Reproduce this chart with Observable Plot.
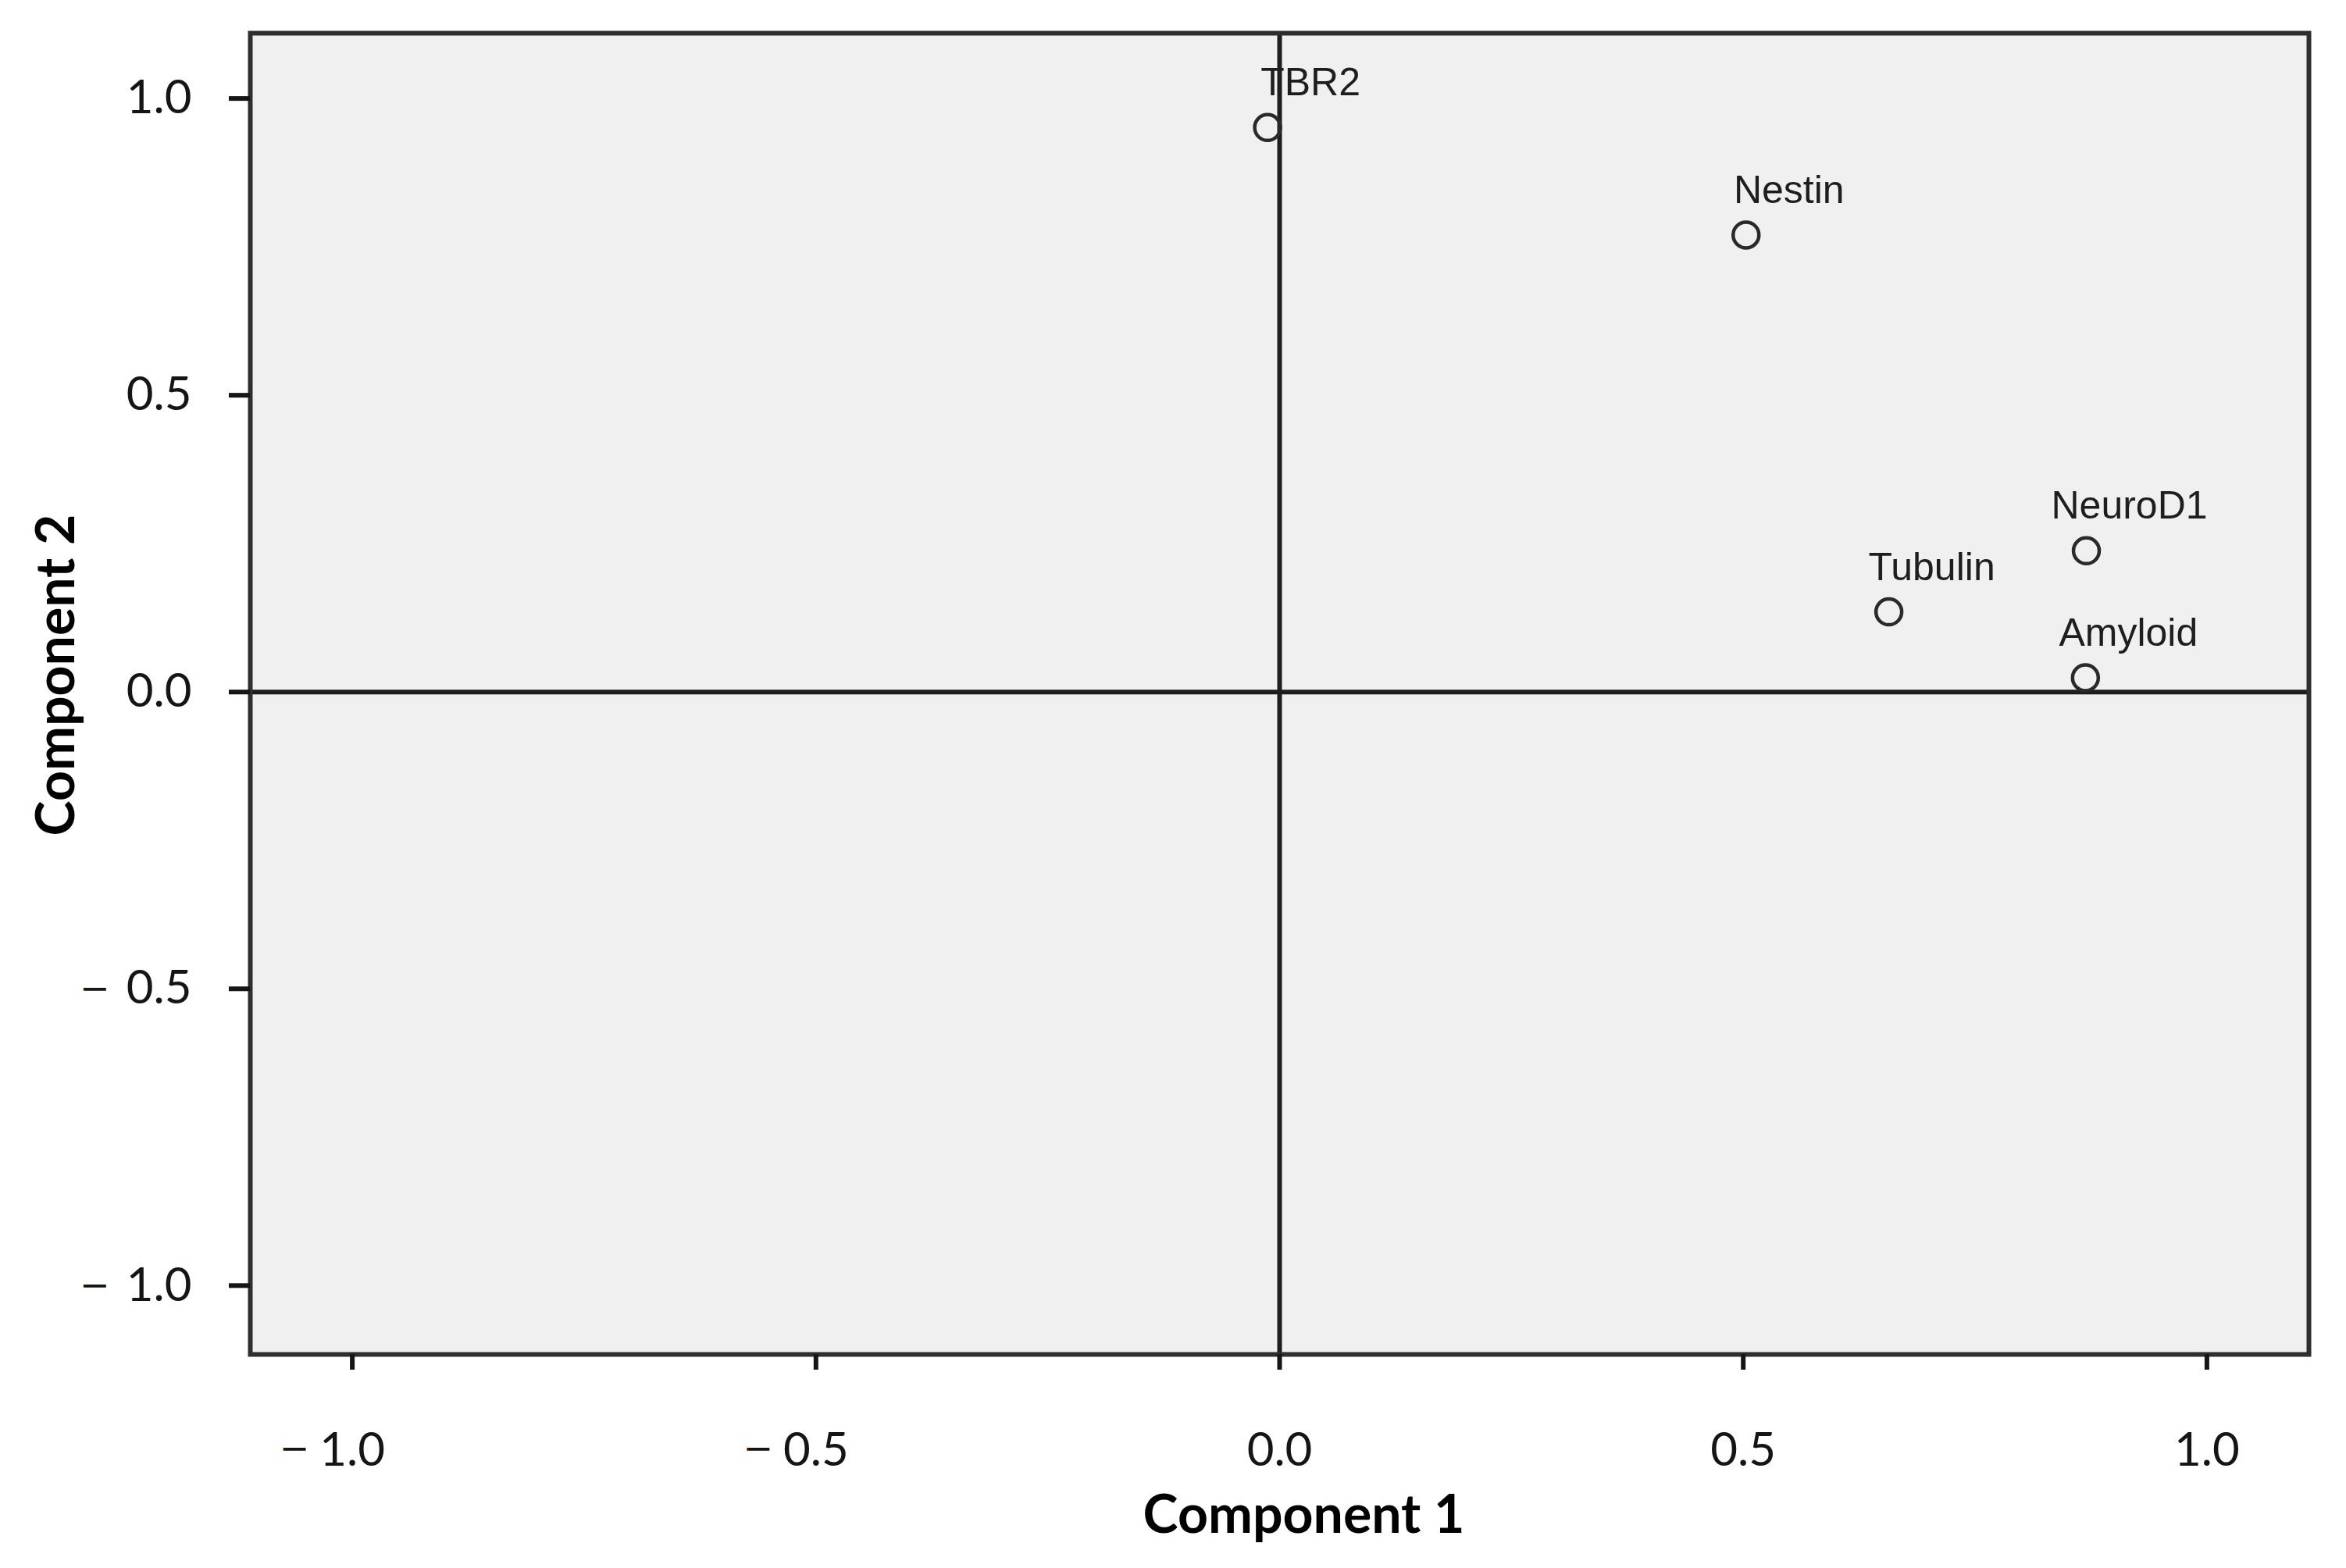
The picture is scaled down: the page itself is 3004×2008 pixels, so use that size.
<!DOCTYPE html>
<html>
<head>
<meta charset="utf-8">
<script src="https://cdn.jsdelivr.net/npm/d3@7"></script>
<script src="https://cdn.jsdelivr.net/npm/@observablehq/plot@0.6"></script>
<style>
  html, body { margin: 0; padding: 0; background: #fff; overflow: hidden; }
</style>
</head>
<body>
<div id="chart"></div>
<script>
// ---- data ----
const markers = ["TBR2", "Nestin", "NeuroD1", "Tubulin", "Amyloid"];
const component1 = [-0.013, 0.503, 0.870, 0.657, 0.869];
const component2 = [0.951, 0.770, 0.238, 0.135, 0.024];
const tickValues = [-1, -0.5, 0, 0.5, 1];
const negativeTicks = [-1, -0.5];
const xTitle = "Component 1";
const yTitle = "Component 2";

const data = markers.map((m, i) => ({marker: m, c1: component1[i], c2: component2[i]}));
const absFmt = v => Math.abs(v).toFixed(1);   // number part of each tick label
const minusFmt = () => "\u2212";               // sign drawn separately
const tickFont = "Lato, 'Open Sans', sans-serif";
const minusFont = "'DejaVu Sans', sans-serif";

const chart = Plot.plot({
  width: 3004,
  height: 2008,
  marginLeft: 320,
  marginRight: 48,
  marginTop: 42,
  marginBottom: 274,
  style: {fontFamily: tickFont, background: "#fff", color: "#111"},
  x: {domain: [-1.11, 1.11]},
  y: {domain: [-1.116, 1.11]},
  marks: [
    Plot.frame({fill: "#f0f0f0", stroke: null}),
    Plot.ruleX([0], {stroke: "#1e1e1e", strokeWidth: 6}),
    Plot.ruleY([0], {stroke: "#1e1e1e", strokeWidth: 6}),
    Plot.frame({stroke: "#2e2e2e", strokeWidth: 6, fill: null}),
    // y axis: ticks + numbers, then minus signs
    Plot.axisY({
      ticks: tickValues, tickSize: 27, tickPadding: 48, tickFormat: absFmt,
      fontSize: 60, strokeWidth: 6, color: "#151515", label: null
    }),
    Plot.axisY({
      ticks: negativeTicks, tickSize: 0, tickPadding: 180, tickFormat: minusFmt,
      fontSize: 46, fontFamily: minusFont, color: "#151515", label: null
    }),
    // x axis: ticks + numbers, then minus signs
    Plot.axisX({
      ticks: tickValues, tickSize: 20, tickPadding: 80, tickFormat: absFmt,
      fontSize: 60, strokeWidth: 6, color: "#151515", label: null
    }),
    Plot.axisX({
      ticks: negativeTicks, tickSize: 0, tickPadding: 103, dx: -74, tickFormat: minusFmt,
      fontSize: 46, fontFamily: minusFont, color: "#151515", label: null
    }),
    Plot.dot(data, {x: "c1", y: "c2", r: 16.5, stroke: "#2a2a2a", strokeWidth: 4.5, fill: "none"}),
    Plot.text(data, {
      x: "c1", y: "c2", text: "marker", dx: 55, dy: -57,
      fontSize: 50, fontFamily: "'Liberation Sans', Arial, sans-serif", fill: "#1e1e1e"
    }),
    Plot.text([xTitle], {
      frameAnchor: "bottom", lineAnchor: "middle", textAnchor: "middle",
      dx: 31, dy: 207, fontSize: 68, fontWeight: "bold", fill: "#000"
    }),
    Plot.text([yTitle], {
      frameAnchor: "left", lineAnchor: "middle", textAnchor: "middle",
      rotate: -90, dx: -247, dy: -24, fontSize: 68, fontWeight: "bold", fill: "#000"
    })
  ]
});
document.getElementById("chart").append(chart);
</script>
</body>
</html>
